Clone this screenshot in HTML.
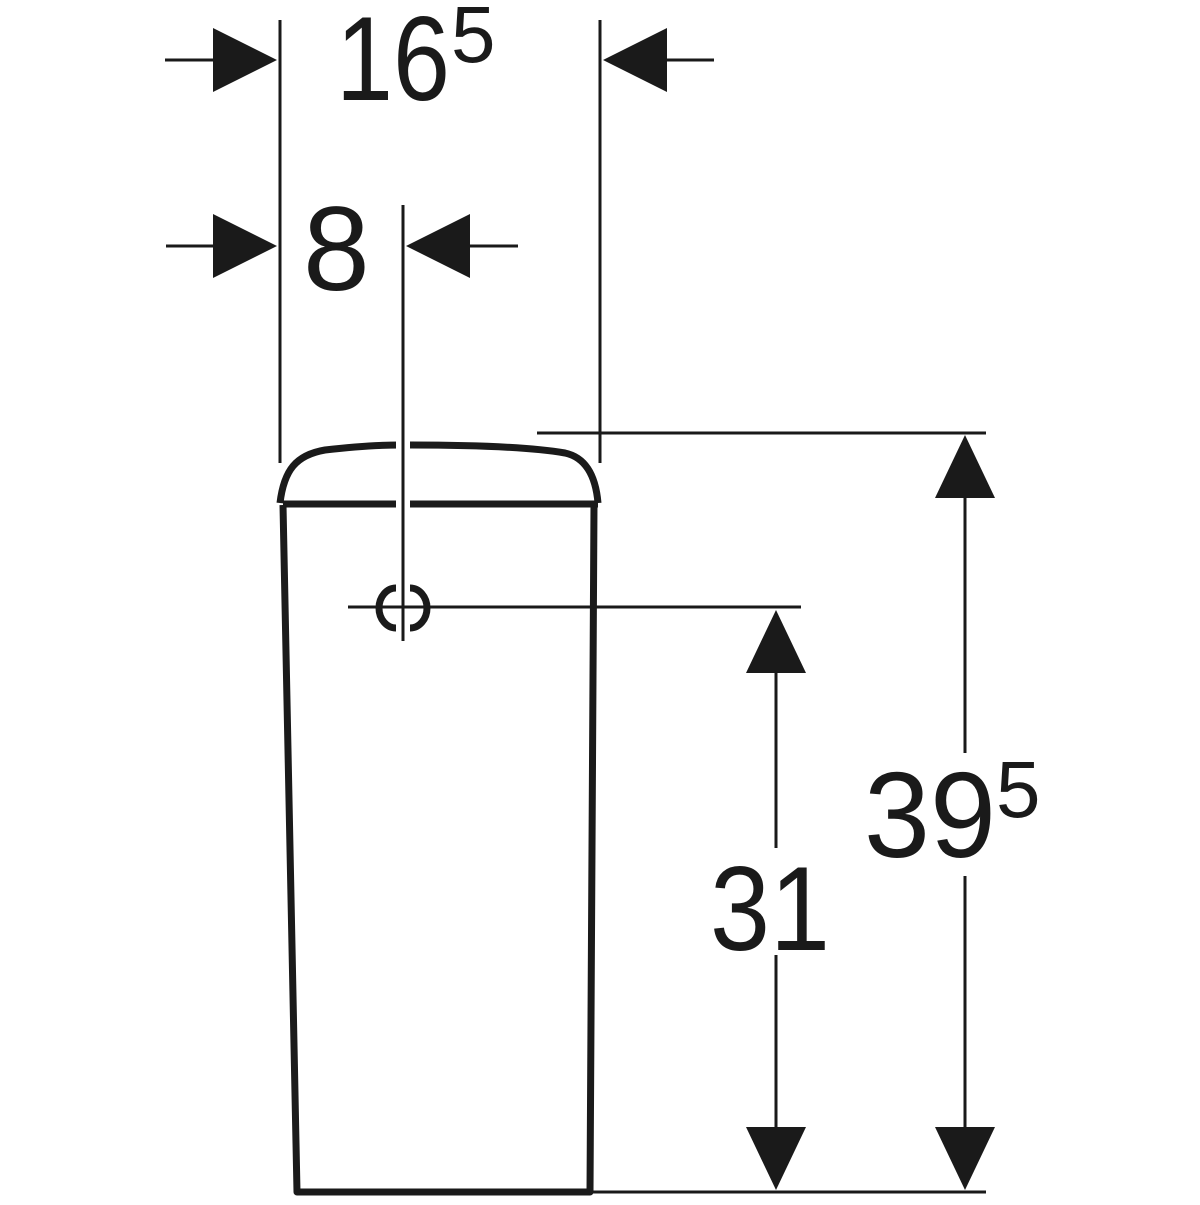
<!DOCTYPE html>
<html><head><style>html,body{margin:0;padding:0;background:#fff}</style></head>
<body>
<svg width="1200" height="1200" viewBox="0 0 1200 1200" xmlns="http://www.w3.org/2000/svg">
<g stroke="#1a1a1a" fill="none" stroke-width="3">
<line x1="280" y1="20" x2="280" y2="463"/>
<line x1="600" y1="20" x2="600" y2="463"/>
<line x1="403" y1="205" x2="403" y2="641"/>
<line x1="165" y1="60" x2="215" y2="60"/>
<line x1="665" y1="60" x2="714" y2="60"/>
<line x1="166" y1="246" x2="215" y2="246"/>
<line x1="465" y1="246" x2="518" y2="246"/>
<line x1="537" y1="433" x2="986" y2="433"/>
<line x1="348" y1="607" x2="801" y2="607"/>
<line x1="590" y1="1192" x2="986" y2="1192"/>
<line x1="965" y1="495" x2="965" y2="753"/>
<line x1="965" y1="876" x2="965" y2="1130"/>
<line x1="776" y1="670" x2="776" y2="848"/>
<line x1="776" y1="955" x2="776" y2="1130"/>
</g>
<g fill="#1a1a1a">
<polygon points="213,28 277,60 213,92"/>
<polygon points="667,28 603,60 667,92"/>
<polygon points="213,214 277,246 213,278"/>
<polygon points="470,214 406,246 470,278"/>
<polygon points="965,435 995,498 935,498"/>
<polygon points="965,1190 995,1127 935,1127"/>
<polygon points="776,610 806,673 746,673"/>
<polygon points="776,1190 806,1127 746,1127"/>
</g>
<g stroke="#1a1a1a" fill="none" stroke-width="7" stroke-linejoin="round">
<path d="M280,503 C284,470 296,455 325,450 C360,446 385,445 400,445 M410,445 C470,445 530,447 565,453 C588,458 596,480 598,503"/>
<path d="M283,504 L396,504 M410,504 L598,504"/>
<path d="M283,505 L297,1192 L590,1192 L594,505"/>
</g>
<rect x="396" y="440" width="7" height="70" fill="#fff"/>
<line x1="403" y1="440" x2="403" y2="510" stroke="#1a1a1a" stroke-width="3"/>
<path d="M396,588 A17,20 0 0 0 396,628" stroke="#1a1a1a" stroke-width="7" fill="none"/>
<path d="M410,588 A17,20 0 0 1 410,628" stroke="#1a1a1a" stroke-width="7" fill="none"/>
<g font-family="Liberation Sans, sans-serif" fill="#1a1a1a">
<text x="336" y="100" font-size="120" textLength="114" lengthAdjust="spacingAndGlyphs">16</text>
<text x="451" y="62" font-size="80">5</text>
<text x="303" y="290" font-size="120">8</text>
<text x="864" y="857" font-size="122" textLength="132" lengthAdjust="spacingAndGlyphs">39</text>
<text x="996" y="817" font-size="80">5</text>
<text x="710" y="950" font-size="120" textLength="120" lengthAdjust="spacingAndGlyphs">31</text>
</g>
</svg>
</body></html>
